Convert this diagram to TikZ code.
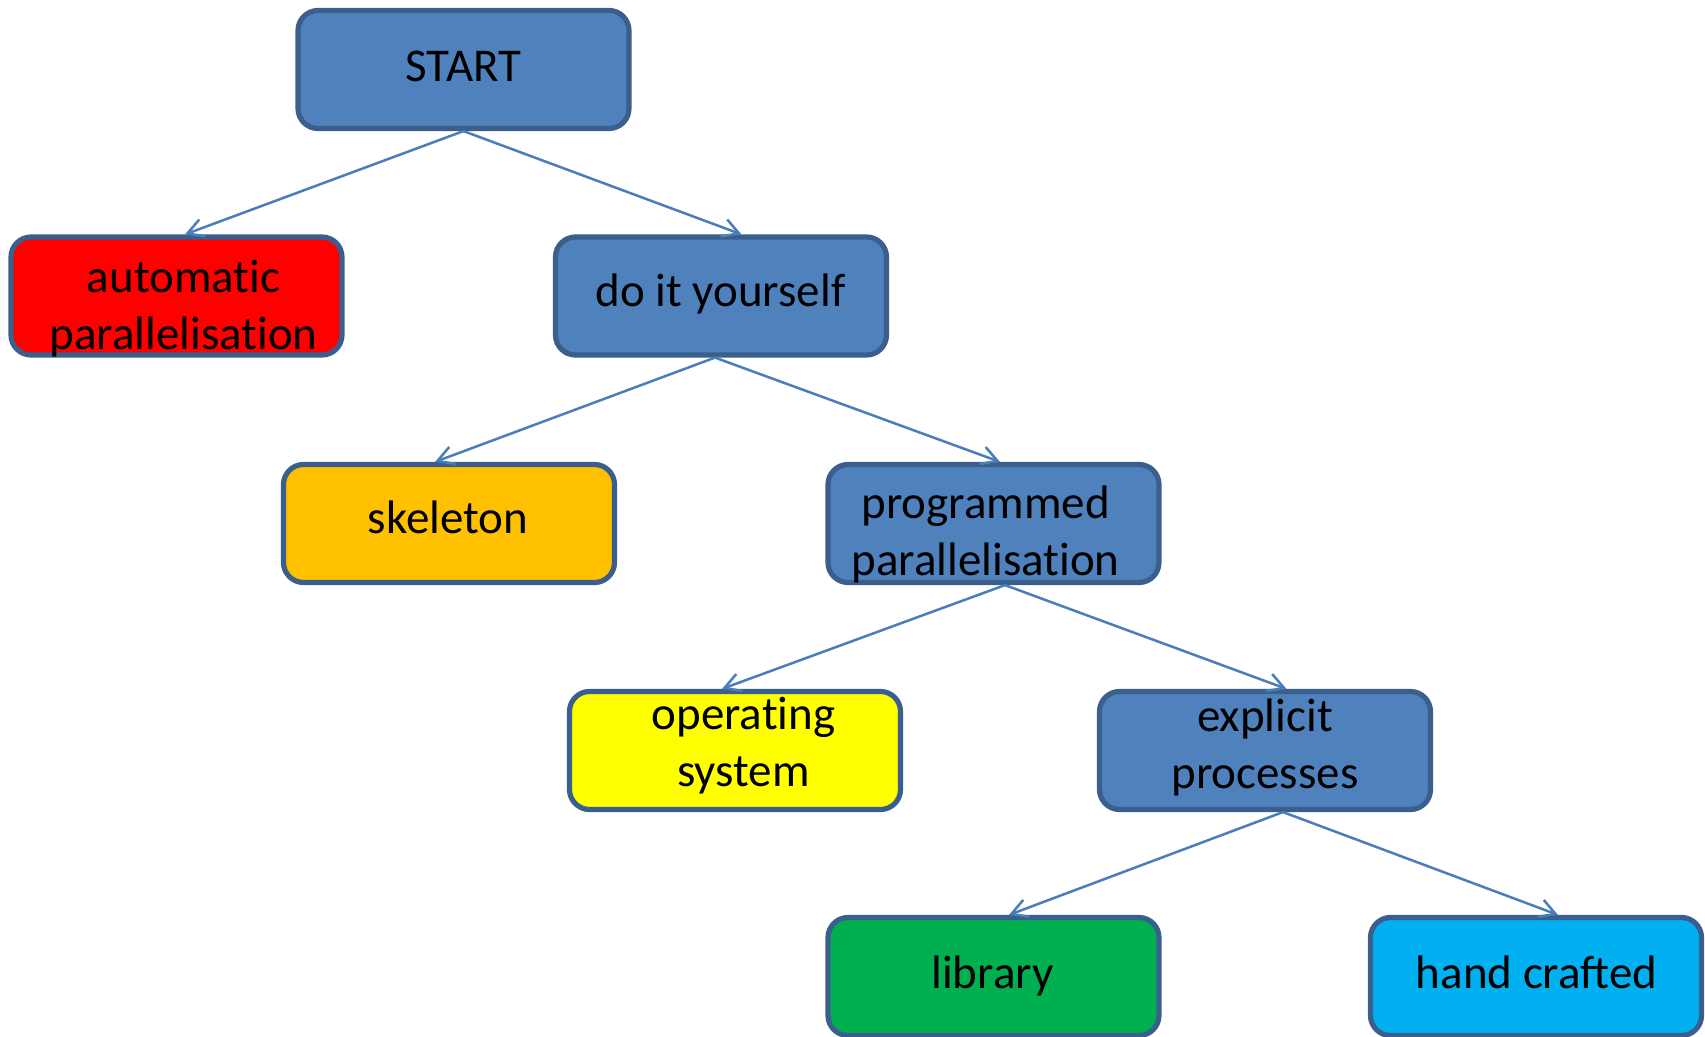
\documentclass[tikz,border=0pt]{standalone}
\usepackage{fontspec}
\setmainfont{Carlito}
\usetikzlibrary{arrows.meta,calc}

\definecolor{boxblue}{HTML}{4F81BD}
\definecolor{boxedge}{HTML}{3A5F8C}
\definecolor{linkblue}{HTML}{4A7EBB}
\definecolor{autored}{HTML}{FF0000}
\definecolor{skelorange}{HTML}{FFC000}
\definecolor{osyellow}{HTML}{FFFF00}
\definecolor{libgreen}{HTML}{00B050}
\definecolor{handcyan}{HTML}{00B0F0}

% two centred lines whose baseline is that of the first line
\newcommand\twolines[2]{\begin{tabular}[t]{@{}c@{}}#1\\#2\end{tabular}}
% keeps "t" and "i" as separate glyphs
\newcommand\tinolig{t\kern0pt i}

\begin{document}
\begin{tikzpicture}[x=0.5pt,y=-0.5pt,
  stepbox/.style={draw=boxedge, line width=2.6pt, rounded corners=10pt,
    minimum width=165.5pt, minimum height=59pt, inner sep=0pt, fill=#1},
  stepbox/.default=boxblue,
  caption/.style={anchor=base, inner sep=0pt, text=black, yshift=-1pt,
    font=\fontsize{23.5}{28.5}\selectfont},
  link/.style={draw=linkblue, line width=1.25pt,
    -{Straight Barb[length=8pt,width=9pt,line width=1.25pt]}}]

\useasboundingbox (0,0) rectangle (1705,1037);

% boxes of the decision tree
\node[stepbox]             (start) at (463.5,69.5)  {};
\node[stepbox=autored]     (auto)  at (176.5,296)   {};
\node[stepbox]             (diy)   at (721,296)     {};
\node[stepbox=skelorange]  (skel)  at (449,523.5)   {};
\node[stepbox]             (prog)  at (993.5,523.5) {};
\node[stepbox=osyellow]    (os)    at (735,750.5)   {};
\node[stepbox]             (expl)  at (1265,750.5)  {};
\node[stepbox=libgreen]    (lib)   at (993.5,976.5) {};
\node[stepbox=handcyan]    (hand)  at (1536,976.5)  {};

% box captions
\node[caption] (start-t) at (463.5,79.5) {START};
\node[caption] (auto-t)  at (183.5,291)  {\twolines{automa\tinolig c}{parallelisa\tinolig on}};
\node[caption] (diy-t)   at (720.5,305)  {do it yourself};
\node[caption] (skel-t)  at (448,532)    {skeleton};
\node[caption] (prog-t)  at (985.5,517)  {\twolines{programmed}{parallelisa\tinolig on}};
\node[caption] (os-t)    at (743.5,728)  {\twolines{opera\tinolig ng}{system}};
\node[caption] (expl-t)  at (1265,730)   {\twolines{explicit}{processes}};
\node[caption] (lib-t)   at (992.5,986)  {library};
\node[caption] (hand-t)  at (1536.5,986) {hand crafted};

% connectors
\draw[link] (start.south) -- ($(auto.north)+(8.5,0)$);
\draw[link] (start.south) -- ($(diy.north)+(20.5,0)$);
\draw[link] ($(diy.south)+(-6,0)$) -- ($(skel.north)+(-14,0)$);
\draw[link] ($(diy.south)+(-6,0)$) -- ($(prog.north)+(6.5,0)$);
\draw[link] ($(prog.south)+(11.5,0)$) -- ($(os.north)+(-13,0)$);
\draw[link] ($(prog.south)+(11.5,0)$) -- ($(expl.north)+(21.5,0)$);
\draw[link] ($(expl.south)+(18,0)$) -- ($(lib.north)+(15.5,0)$);
\draw[link] ($(expl.south)+(18,0)$) -- ($(hand.north)+(22,0)$);
\end{tikzpicture}
\end{document}
